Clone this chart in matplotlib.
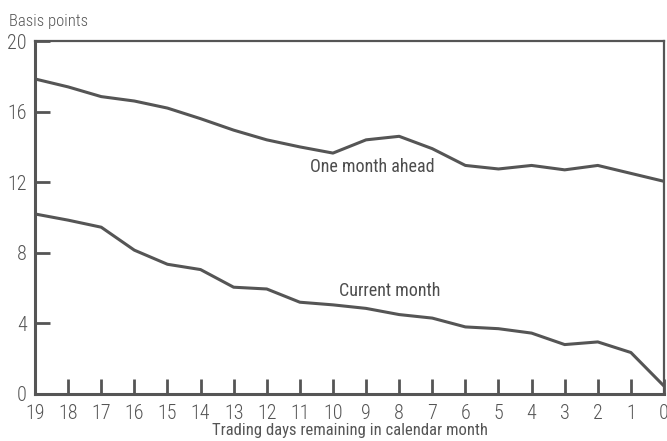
import numpy as np
import matplotlib
import matplotlib.pyplot as plt

matplotlib.use('Agg')

days = list(range(19, -1, -1))
one_month_ahead = [17.85, 17.4, 16.85, 16.6, 16.2, 15.6, 14.95, 14.4, 14.0, 13.65,
                   14.4, 14.6, 13.9, 12.95, 12.75, 12.95, 12.7, 12.95, 12.5, 12.05]
current_month = [10.2, 9.85, 9.45, 8.15, 7.35, 7.05, 6.05, 5.95, 5.2, 5.05,
                 4.85, 4.5, 4.3, 3.8, 3.7, 3.45, 2.8, 2.95, 2.35, 0.45]
y_ticks = [0, 4, 8, 12, 16, 20]

col = '#555555'
plt.rcParams['font.family'] = ['Roboto Condensed', 'DejaVu Sans']
plt.rcParams['font.weight'] = 'light'

fig = plt.figure(figsize=(6.67, 4.41), dpi=100)
ax = fig.add_axes([0.0525, 0.1066, 0.943, 0.8004])

ax.plot(days, one_month_ahead, color=col, linewidth=2.2, solid_joinstyle='round')
ax.plot(days, current_month, color=col, linewidth=2.2, solid_joinstyle='round')

ax.set_xlim(19, 0)
ax.set_ylim(0, 20)
ax.set_xticks(days)
ax.set_xticklabels([str(d) for d in days])
ax.set_yticks(y_ticks)
ax.tick_params(axis='both', direction='in', length=11, width=2, color=col,
               labelcolor=col, labelsize=14.5)
ax.tick_params(axis='x', pad=7)
ax.tick_params(axis='y', pad=6)

for s in ax.spines.values():
    s.set_color(col)
    s.set_linewidth(1.6)
ax.spines['left'].set_linewidth(2.2)
ax.spines['bottom'].set_linewidth(2.2)

ax.set_xlabel('Trading days remaining in calendar month', fontsize=12, color=col, labelpad=0.5)
fig.text(0.013, 0.935, 'Basis points', fontsize=12, color=col, va='bottom', ha='left')
ax.text(8.8, 12.85, 'One month ahead', fontsize=13, color='#4d4d4d', fontweight='normal',
        ha='center', va='center')
ax.text(8.3, 5.85, 'Current month', fontsize=13, color='#4d4d4d', fontweight='normal',
        ha='center', va='center')

plt.savefig('out.png', dpi=100)
plt.close()
